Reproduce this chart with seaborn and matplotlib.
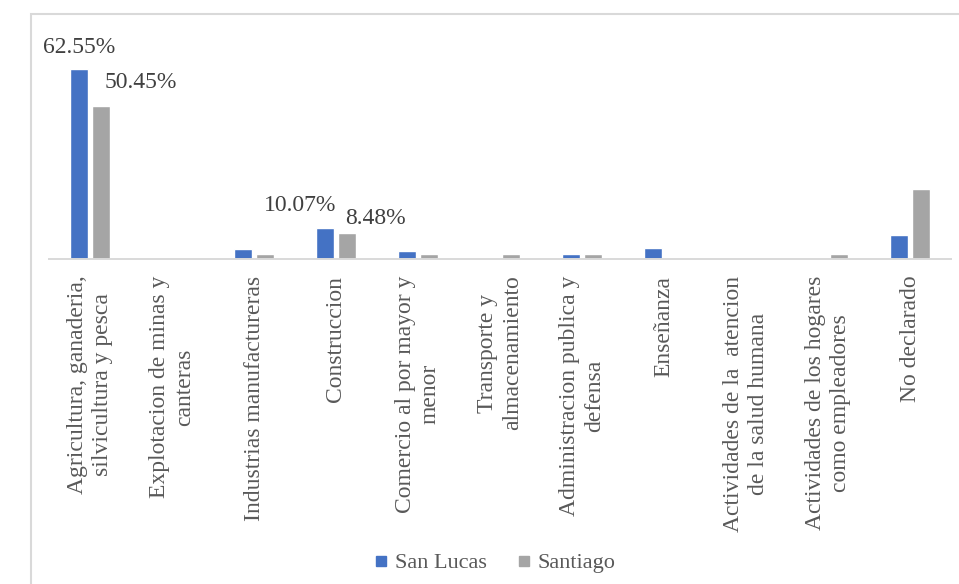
import matplotlib
matplotlib.use("Agg")
import matplotlib.pyplot as plt
from matplotlib.patches import Rectangle
from matplotlib.lines import Line2D
import numpy as np
import pandas as pd
import seaborn as sns

categories = [
    "Agricultura, ganaderia,\nsilvicultura y pesca",
    "Explotacion de minas y\ncanteras",
    "Industrias manufactureras",
    "Construccion",
    "Comercio al por mayor y\nmenor",
    "Transporte y\nalmacenamiento",
    "Administracion publica y\ndefensa",
    "Enseñanza",
    "Actividades de la  atencion\nde la salud humana",
    "Actividades de los hogares\ncomo empleadores",
    "No declarado",
]
series_names = ["San Lucas", "Santiago"]
san_lucas = [62.55, 0.1, 3.3, 10.07, 2.5, 0.1, 1.75, 3.5, 0.1, 0.1, 7.9]
santiago = [50.45, 0.1, 1.65, 8.48, 1.65, 1.75, 1.75, 0.1, 0.1, 1.75, 23.0]
labelled = [0, 3]
colors = ["#4472C4", "#A5A5A5"]

sns.set_style("white")
plt.rcParams["font.family"] = ["Liberation Serif", "DejaVu Serif"]

df = pd.DataFrame({
    "Sector": categories * 2,
    "Valor": san_lucas + santiago,
    "Zona": [series_names[0]] * len(categories) + [series_names[1]] * len(categories),
})

W, H = 959, 584
fig = plt.figure(figsize=(W / 100, H / 100), dpi=100)
base_y = 259
px_per_unit = 190 / 62.55
ymax = 70
ax = fig.add_axes([49 / W, (H - base_y) / H, 902 / W, ymax * px_per_unit / H])

sns.barplot(data=df, x="Sector", y="Valor", hue="Zona", palette=colors,
            width=0.52, gap=0.16, ax=ax, legend=False, saturation=1)

ax.set_ylim(0, ymax)
ax.set_xlim(-0.5, len(categories) - 0.5)
ax.set_xlabel("")
ax.set_ylabel("")
ax.set_yticks([])
for s in ["top", "right", "left"]:
    ax.spines[s].set_visible(False)
ax.spines["bottom"].set_color("#d9d9d9")
ax.spines["bottom"].set_linewidth(1.4)

ax.set_xticks(np.arange(len(categories)))
ax.set_xticklabels(categories, rotation=90, fontsize=17, color="#595959",
                   linespacing=1.25, ha="center", va="top", multialignment="center")
ax.tick_params(axis="x", which="major", length=0, pad=12)
ax.set_xticks(np.arange(len(categories) + 1) - 0.5, minor=True)
ax.tick_params(axis="x", which="minor", length=5, width=1.2, color="#d9d9d9")

# data labels
offsets = {(0, 0): (0, 16), (1, 0): (40, 18), (0, 3): (-25, 17), (1, 3): (29, 9)}
vals = [san_lucas, santiago]
for si, cont in enumerate(ax.containers):
    for ci in labelled:
        bar = cont[ci]
        dx, dy = offsets[(si, ci)]
        ax.annotate(f"{vals[si][ci]:.2f}%",
                    (bar.get_x() + bar.get_width() / 2, bar.get_height()),
                    xytext=(dx, dy), textcoords="offset pixels",
                    ha="center", va="baseline", fontsize=17, color="#404040",
                    annotation_clip=False)

handles = [Line2D([], [], marker="s", linestyle="none", markersize=7,
                  markerfacecolor=c, markeredgecolor=c) for c in colors]
fig.legend(handles, series_names, loc="center", bbox_to_anchor=(495 / W, 1 - 563 / H),
           ncol=2, frameon=False, fontsize=16, handlelength=0.6, handletextpad=0.3,
           columnspacing=1.4, labelcolor="#595959")

fig.patches.append(Rectangle((31 / W, -0.05), 1.2, (H - 14) / H + 0.05,
                             transform=fig.transFigure, fill=False,
                             edgecolor="#d9d9d9", linewidth=1.5))

fig.savefig("out.png", dpi=100)
